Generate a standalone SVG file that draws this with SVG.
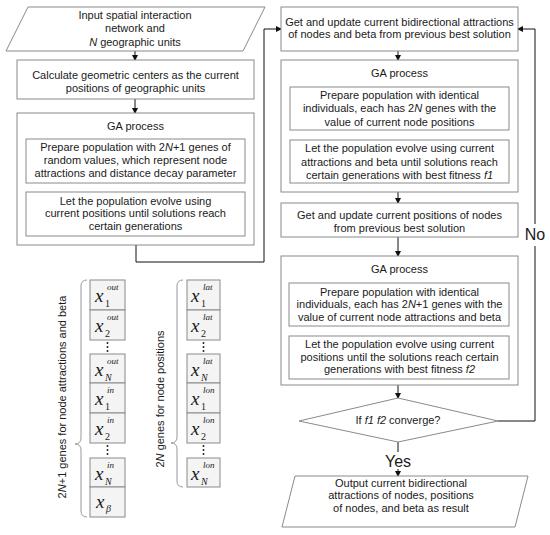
<svg xmlns="http://www.w3.org/2000/svg" width="550" height="535" viewBox="0 0 550 535">
<defs>
<marker id="ah" markerWidth="6" markerHeight="6" refX="5" refY="3" orient="auto" markerUnits="userSpaceOnUse">
<path d="M0,0 L6,3 L0,6 Z" fill="#111"/>
</marker>
<style>
.box{fill:#fff;stroke:#8a8a8a;stroke-width:1}
.cell{fill:#f4f4f4;stroke:#8a8a8a;stroke-width:1}
.t{font-family:"Liberation Sans",Arial,sans-serif;font-size:11px;fill:#1a1a1a;text-anchor:middle}
.big{font-family:"Liberation Sans",Arial,sans-serif;font-size:16px;fill:#1a1a1a;text-anchor:middle}
.rot{font-family:"Liberation Sans",Arial,sans-serif;font-size:11px;fill:#1a1a1a;text-anchor:middle}
.c{fill:none;stroke:#111;stroke-width:1}
.brace{fill:none;stroke:#999;stroke-width:1}
.gx{font-family:"Liberation Serif","Times New Roman",serif;font-style:italic;font-size:19px;fill:#1a1a1a}
.gs{font-family:"Liberation Serif","Times New Roman",serif;font-style:italic;font-size:9px;fill:#1a1a1a}
.gb{font-family:"Liberation Serif","Times New Roman",serif;font-size:10px;fill:#1a1a1a}
.gbi{font-family:"Liberation Serif","Times New Roman",serif;font-style:italic;font-size:10px;fill:#1a1a1a}
.dot{fill:#222}
</style>
</defs>

<g id="connectors">
<line class="c" x1="135" y1="51" x2="135" y2="60" marker-end="url(#ah)"/>
<line class="c" x1="135" y1="99" x2="135" y2="113" marker-end="url(#ah)"/>
<polyline class="c" points="136,245 136,262 264,262 264,29 281,29" marker-end="url(#ah)"/>
<line class="c" x1="398" y1="51" x2="398" y2="60" marker-end="url(#ah)"/>
<line class="c" x1="398" y1="192" x2="398" y2="203" marker-end="url(#ah)"/>
<line class="c" x1="398" y1="237" x2="398" y2="256" marker-end="url(#ah)"/>
<line class="c" x1="398" y1="385" x2="398" y2="398" marker-end="url(#ah)"/>
<line class="c" x1="398" y1="442" x2="398" y2="452"/>
<line class="c" x1="398" y1="469" x2="398" y2="476" marker-end="url(#ah)"/>
<polyline class="c" points="498,421 535,421 535,246"/>
<polyline class="c" points="535,224 535,29 518,29" marker-end="url(#ah)"/>
<text class="big" x="535" y="240">No</text>
<text class="big" x="398" y="467">Yes</text>
</g>

<g id="input">
<polygon class="box" points="28,7 265,7 243,51 6,51"/>
<text class="t" x="135" y="19">Input spatial interaction</text>
<text class="t" x="135" y="32">network and</text>
<text class="t" x="135" y="46"><tspan font-style="italic">N</tspan> geographic units</text>
</g>

<g id="calc">
<rect class="box" x="17" y="60" width="237" height="39"/>
<text class="t" x="135.5" y="79">Calculate geometric centers as the current</text>
<text class="t" x="135.5" y="92">positions of geographic units</text>
</g>

<g id="ga1">
<rect class="box" x="17" y="113" width="237" height="132"/>
<text class="t" x="135.5" y="130">GA process</text>
<rect class="box" x="26" y="139" width="219" height="44"/>
<text class="t" x="135.5" y="151">Prepare population with 2<tspan font-style="italic">N</tspan>+1 genes of</text>
<text class="t" x="135.5" y="164">random values, which represent node</text>
<text class="t" x="135.5" y="177">attractions and distance decay parameter</text>
<rect class="box" x="26" y="192" width="219" height="44"/>
<text class="t" x="135.5" y="205">Let the population evolve using</text>
<text class="t" x="135.5" y="217">current positions until solutions reach</text>
<text class="t" x="135.5" y="230">certain generations</text>
</g>

<g id="update1">
<rect class="box" x="281" y="7" width="237" height="44"/>
<text class="t" x="399.5" y="26">Get and update current bidirectional attractions</text>
<text class="t" x="399.5" y="38">of nodes and beta from previous best solution</text>
</g>

<g id="ga2">
<rect class="box" x="281" y="60" width="237" height="132"/>
<text class="t" x="399.5" y="77">GA process</text>
<rect class="box" x="290" y="87" width="219" height="43"/>
<text class="t" x="399.5" y="99">Prepare population with identical</text>
<text class="t" x="399.5" y="112">individuals, each has 2<tspan font-style="italic">N</tspan> genes with the</text>
<text class="t" x="399.5" y="126">value of current node positions</text>
<rect class="box" x="290" y="140" width="219" height="43"/>
<text class="t" x="399.5" y="152">Let the population evolve using current</text>
<text class="t" x="399.5" y="166">attractions and beta until solutions reach</text>
<text class="t" x="399.5" y="179">certain generations with best fitness <tspan font-style="italic">f1</tspan></text>
</g>

<g id="update2">
<rect class="box" x="281" y="203" width="237" height="34"/>
<text class="t" x="399.5" y="219">Get and update current positions of nodes</text>
<text class="t" x="399.5" y="232">from previous best solution</text>
</g>

<g id="ga3">
<rect class="box" x="281" y="256" width="237" height="129"/>
<text class="t" x="399.5" y="273">GA process</text>
<rect class="box" x="289" y="283" width="220" height="43"/>
<text class="t" x="399.5" y="296">Prepare population with identical</text>
<text class="t" x="399.5" y="308">individuals, each has 2<tspan font-style="italic">N</tspan>+1 genes with the</text>
<text class="t" x="399.5" y="321">value of current node attractions and beta</text>
<rect class="box" x="289" y="336" width="220" height="43"/>
<text class="t" x="399.5" y="348">Let the population evolve using current</text>
<text class="t" x="399.5" y="361">positions until the solutions reach certain</text>
<text class="t" x="399.5" y="373">generations with best fitness <tspan font-style="italic">f2</tspan></text>
</g>

<g id="decision">
<polygon class="box" points="398,398 498,421 398,442 299,421"/>
<text class="t" x="398" y="424">If <tspan font-style="italic">f1 f2</tspan> converge?</text>
</g>

<g id="output">
<polygon class="box" points="295,476 528,476 515,527 282,527"/>
<text class="t" x="401" y="487">Output current bidirectional</text>
<text class="t" x="401" y="499">attractions of nodes, positions</text>
<text class="t" x="401" y="512">of nodes, and beta as result</text>
</g>

<g id="genes-attractions">
<path class="brace" d="M87,280 Q81,280 81,286 L81,438 Q81,444 75,444 Q81,444 81,450 L81,511 Q81,517 87,517"/>
<text class="rot" transform="translate(66,397) rotate(-90)">2<tspan font-style="italic">N</tspan>+1 genes for node attractions and beta</text>
<rect class="cell" x="90" y="280" width="35" height="30"/>
<text class="gx" x="95" y="302">x</text><text class="gs" x="107" y="290">out</text><text class="gb" x="105" y="307">1</text>
<rect class="cell" x="90" y="310" width="35" height="30"/>
<text class="gx" x="95" y="332">x</text><text class="gs" x="107" y="320">out</text><text class="gb" x="105" y="337">2</text>
<circle class="dot" cx="107.5" cy="343" r="1"/><circle class="dot" cx="107.5" cy="347" r="1"/><circle class="dot" cx="107.5" cy="351" r="1"/>
<rect class="cell" x="90" y="354" width="35" height="29"/>
<text class="gx" x="95" y="376">x</text><text class="gs" x="107" y="364">out</text><text class="gbi" x="105" y="381">N</text>
<rect class="cell" x="90" y="383" width="35" height="30"/>
<text class="gx" x="95" y="405">x</text><text class="gs" x="107" y="393">in</text><text class="gb" x="105" y="410">1</text>
<rect class="cell" x="90" y="413" width="35" height="30"/>
<text class="gx" x="95" y="435">x</text><text class="gs" x="107" y="423">in</text><text class="gb" x="105" y="440">2</text>
<circle class="dot" cx="107.5" cy="446" r="1"/><circle class="dot" cx="107.5" cy="450" r="1"/><circle class="dot" cx="107.5" cy="454" r="1"/>
<rect class="cell" x="90" y="458" width="35" height="29"/>
<text class="gx" x="95" y="480">x</text><text class="gs" x="107" y="468">in</text><text class="gbi" x="105" y="485">N</text>
<rect class="cell" x="90" y="487" width="35" height="30"/>
<text class="gx" x="96" y="508">x</text><text class="gbi" x="106" y="512" font-size="11">β</text>
</g>

<g id="genes-positions">
<path class="brace" d="M183,280 Q177,280 177,286 L177,437 Q177,443 171,443 Q177,443 177,449 L177,481 Q177,487 183,487"/>
<text class="rot" transform="translate(164,399) rotate(-90)">2<tspan font-style="italic">N</tspan> genes for node positions</text>
<rect class="cell" x="187" y="280" width="33" height="30"/>
<text class="gx" x="191" y="302">x</text><text class="gs" x="203" y="290">lat</text><text class="gb" x="201" y="307">1</text>
<rect class="cell" x="187" y="310" width="33" height="30"/>
<text class="gx" x="191" y="332">x</text><text class="gs" x="203" y="320">lat</text><text class="gb" x="201" y="337">2</text>
<circle class="dot" cx="203.5" cy="343" r="1"/><circle class="dot" cx="203.5" cy="347" r="1"/><circle class="dot" cx="203.5" cy="351" r="1"/>
<rect class="cell" x="187" y="354" width="33" height="29"/>
<text class="gx" x="191" y="376">x</text><text class="gs" x="203" y="364">lat</text><text class="gbi" x="201" y="381">N</text>
<rect class="cell" x="187" y="383" width="33" height="30"/>
<text class="gx" x="191" y="405">x</text><text class="gs" x="203" y="393">lon</text><text class="gb" x="201" y="410">1</text>
<rect class="cell" x="187" y="413" width="33" height="30"/>
<text class="gx" x="191" y="435">x</text><text class="gs" x="203" y="423">lon</text><text class="gb" x="201" y="440">2</text>
<circle class="dot" cx="203.5" cy="446" r="1"/><circle class="dot" cx="203.5" cy="450" r="1"/><circle class="dot" cx="203.5" cy="454" r="1"/>
<rect class="cell" x="187" y="458" width="33" height="29"/>
<text class="gx" x="191" y="480">x</text><text class="gs" x="203" y="468">lon</text><text class="gbi" x="201" y="485">N</text>
</g>
</svg>
